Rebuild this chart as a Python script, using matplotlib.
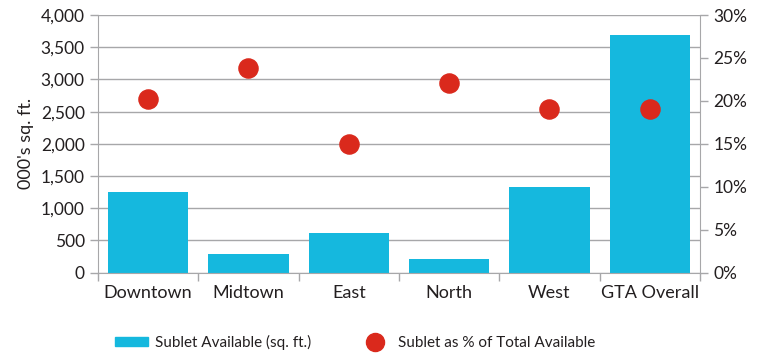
import matplotlib.pyplot as plt
from matplotlib.ticker import FuncFormatter, MultipleLocator
from matplotlib.lines import Line2D
from matplotlib.patches import Patch

plt.rcParams['font.family'] = ['Lato', 'DejaVu Sans']

categories = ["Downtown", "Midtown", "East", "North", "West", "GTA Overall"]
sublet_available = [1255, 285, 615, 212, 1325, 3695]
sublet_pct = [20.2, 23.8, 15.0, 22.1, 19.1, 19.0]

bar_color = '#15B8DE'
dot_color = '#DA291C'
grid_color = '#A7A7A9'
text_color = '#231F20'

fig = plt.figure(figsize=(7.65, 3.53), dpi=100)
ax = fig.add_axes([0.128, 0.2275, 0.787, 0.73])
x = range(len(categories))

ax.bar(x, sublet_available, width=0.8, color=bar_color, zorder=2)
ax.set_xlim(-0.5, len(categories) - 0.5)
ax.set_ylim(0, 4000)
ax.yaxis.set_major_locator(MultipleLocator(500))
ax.yaxis.set_major_formatter(FuncFormatter(lambda v, p: f"{int(v):,}"))
ax.grid(axis='y', color=grid_color, linewidth=1, zorder=0)
ax.set_axisbelow(True)
ax.set_ylabel("000's sq. ft.", fontsize=13, color=text_color, labelpad=5)

ax.set_xticks([i - 0.5 for i in range(len(categories) + 1)])
ax.set_xticklabels([])
ax.set_xticks(list(x), minor=True)
ax.set_xticklabels(categories, minor=True)
ax.tick_params(axis='x', which='major', length=6, color=grid_color, width=1)
ax.tick_params(axis='x', which='minor', length=0, pad=9, labelsize=13, labelcolor=text_color)
ax.tick_params(axis='y', length=6, color=grid_color, width=1, labelsize=12.5, labelcolor=text_color)

for s in ['top', 'right']:
    ax.spines[s].set_visible(False)
for s in ['left', 'bottom']:
    ax.spines[s].set_color(grid_color)

ax2 = ax.twinx()
ax2.scatter(x, sublet_pct, s=190, color=dot_color, zorder=3)
ax2.set_ylim(0, 30)
ax2.yaxis.set_major_locator(MultipleLocator(5))
ax2.yaxis.set_major_formatter(FuncFormatter(lambda v, p: f"{int(v)}%"))
ax2.tick_params(axis='y', length=6, color=grid_color, width=1, labelsize=12.5, labelcolor=text_color)
for s in ['top', 'left', 'bottom']:
    ax2.spines[s].set_visible(False)
ax2.spines['right'].set_color(grid_color)

handles = [Patch(color=bar_color), Line2D([], [], marker='o', linestyle='', color=dot_color, markersize=13)]
labels = ["Sublet Available (sq. ft.)", "Sublet as % of Total Available"]
fig.legend(handles, labels, loc='lower left', bbox_to_anchor=(0.132, -0.03), ncol=2, frameon=False,
           fontsize=11, handlelength=2.15, handleheight=0.45, handletextpad=0.46, columnspacing=3.1,
           labelcolor=text_color)

fig.savefig('out.png', dpi=100)
